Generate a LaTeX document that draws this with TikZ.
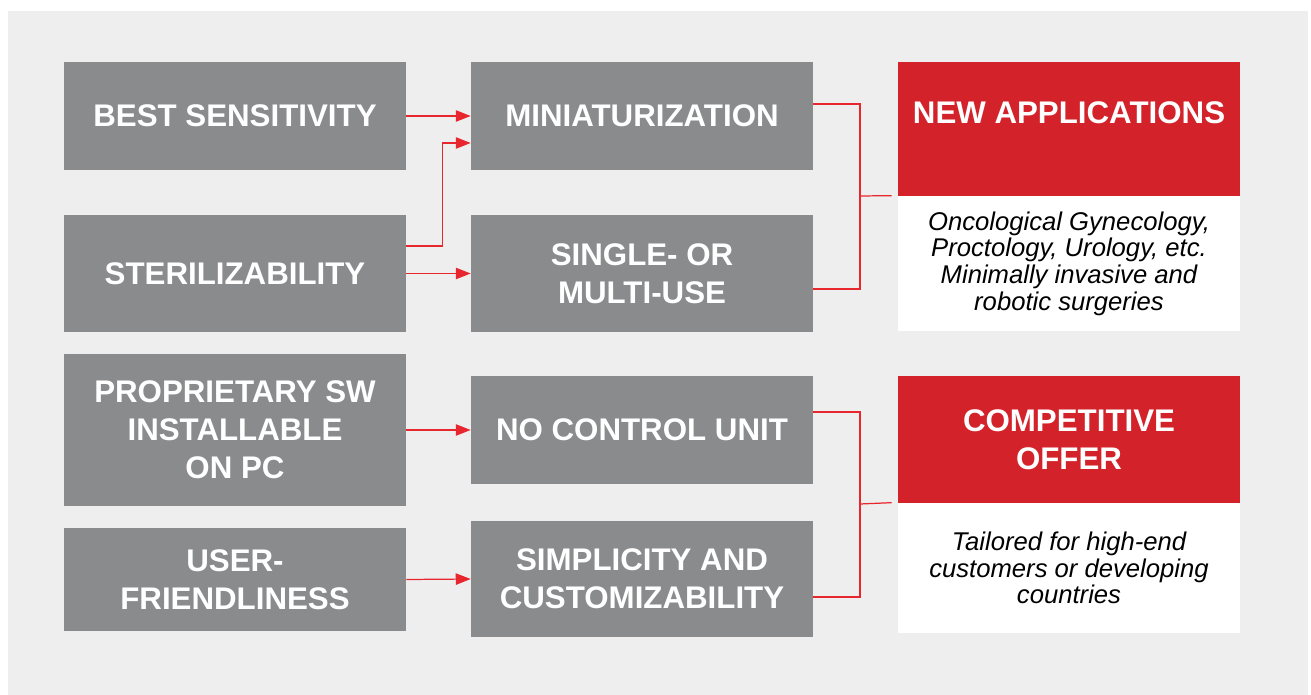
\documentclass[tikz,border=0pt]{standalone}
\usepackage{fontspec}
\setmainfont{Liberation Sans}
\usetikzlibrary{arrows.meta}
\definecolor{boxgray}{HTML}{8A8B8D}
\definecolor{panel}{HTML}{EEEEEE}
\definecolor{offerred}{HTML}{D3222A}
\definecolor{linkred}{HTML}{E8262D}

\begin{document}
\begin{tikzpicture}[x=0.02cm,y=-0.02cm]
    \tikzstyle{box}=[fill=boxgray,text=white,font=\bfseries\fontsize{17.8}{21.5}\selectfont,align=center,minimum width=6.84cm,inner sep=0pt]
    \tikzstyle{head}=[box,fill=offerred]
    \tikzstyle{note}=[fill=white,text=black,font=\itshape\fontsize{14.6}{15.2}\selectfont,align=center,minimum width=6.84cm,inner sep=0pt]
    \tikzstyle{arrow}=[draw=linkred,line width=0.7pt,-{Triangle[length=8.5pt,width=6.5pt]}]
    \tikzstyle{link}=[draw=linkred,line width=0.7pt]
    \useasboundingbox (0,0) rectangle (1311,695);
    \fill[panel] (8,11) rectangle (1308,695);

    % what makes the probe
    \foreach \name/\y/\h/\txt in {bs/116/2.16/{BEST SENSITIVITY}, st/273.5/2.34/{STERILIZABILITY},
            ps/430/3.04/{PROPRIETARY SW\\INSTALLABLE\\ON PC}, uf/579.5/2.06/{USER-\\FRIENDLINESS}}
        \node[box,minimum height=\h cm] (\name) at (235,\y) {\txt};

    % what it gives
    \foreach \name/\y/\h/\txt in {mi/116/2.16/{MINIATURIZATION}, su/273.5/2.34/{SINGLE- OR\\MULTI-USE},
            nc/430/2.16/{NO CONTROL UNIT}, sc/579/2.32/{SIMPLICITY AND\\CUSTOMIZABILITY}}
        \node[box,minimum height=\h cm] (\name) at (642,\y) {\txt};

    % outcomes
    \node[head,minimum height=2.68cm,text height=0.45cm,text depth=0.65cm] (na) at (1069,129) {NEW APPLICATIONS};
    \node[note,minimum height=2.70cm] (naw) at (1069,263.5) {Oncological Gynecology,\\Proctology, Urology, etc.\\Minimally invasive and\\robotic surgeries};
    \node[head,minimum height=2.54cm] (co) at (1069,439.5) {COMPETITIVE\\OFFER};
    \node[note,minimum height=2.60cm] (cow) at (1069,568) {Tailored for high-end\\customers or developing\\countries};

    \foreach \from/\to in {bs/mi, st/su, ps/nc, uf/sc}
        \draw[arrow] (\from.east) -- (\to.west);
    \draw[arrow] ([yshift=0.55cm]st.east) -- ++(0.72cm,0) |- ([yshift=-0.54cm]mi.west);

    \coordinate (j1) at (860,196);
    \coordinate (j2) at (860,504);
    \draw[link] ([yshift=0.24cm]mi.east) -| (j1) |- ([yshift=-0.31cm]su.east);
    \draw[link] (j1) -- ([xshift=-0.12cm]naw.north west);
    \draw[link] ([yshift=0.36cm]nc.east) -| (j2) |- ([yshift=-0.36cm]sc.east);
    \draw[link] (j2) -- ([xshift=-0.12cm]cow.north west);
\end{tikzpicture}
\end{document}
